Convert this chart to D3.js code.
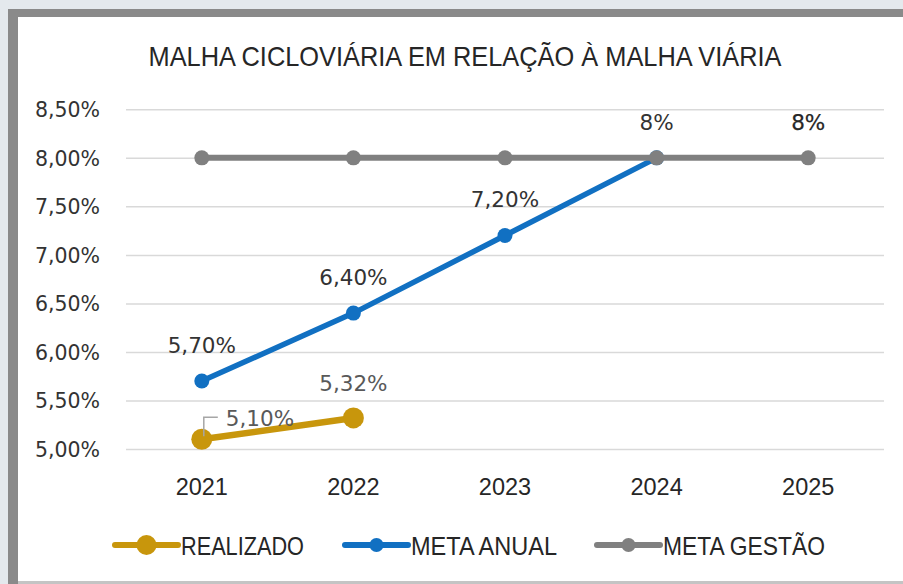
<!DOCTYPE html>
<html><head><meta charset="utf-8">
<script src="https://cdn.jsdelivr.net/npm/d3@7/dist/d3.min.js"></script>
<style>html,body{margin:0;padding:0;background:#e4e9ed;overflow:hidden}</style>
</head><body>
<svg id="c" width="903" height="584"></svg>
<script>
const title = "MALHA CICLOVIÁRIA EM RELAÇÃO À MALHA VIÁRIA";
const years = ["2021","2022","2023","2024","2025"];
const realizado = [5.10, 5.32, null, null, null];
const metaAnual = [5.70, 6.40, 7.20, 8.00, null];
const metaGestao = [8.00, 8.00, 8.00, 8.00, 8.00];
const realizadoLabels = ["5,10%", "5,32%", null, null, null];
const metaAnualLabels = ["5,70%", "6,40%", "7,20%", "8%", null];
const metaGestaoLabels = [null, null, null, null, "8%"];
const yTicks = [5.0, 5.5, 6.0, 6.5, 7.0, 7.5, 8.0, 8.5];
const seriesNames = ["REALIZADO", "META ANUAL", "META GESTÃO"];
const seriesColors = ["#c8960c", "#1170c2", "#808080"];

const svg = d3.select("#c");
// frame
svg.append("rect").attr("x",0).attr("y",0).attr("width",903).attr("height",584).attr("fill","#e4e9ed");
svg.append("rect").attr("x",8).attr("y",9).attr("width",1000).attr("height",1000).attr("fill","#8a8a8a");
svg.append("rect").attr("x",18).attr("y",17).attr("width",1000).attr("height",564).attr("fill","#ffffff");
svg.append("rect").attr("x",18).attr("y",581).attr("width",1000).attr("height",3).attr("fill","#c4c4c4");

const loc = d3.formatLocale({decimal:",", thousands:".", grouping:[3], currency:["",""]});
const fmt = loc.format(".2f");

const x = d3.scaleBand().domain(years).range([126, 884]).padding(0);
const y = d3.scaleLinear().domain([5, 8.5]).range([449, 109.3]);
const cx = d => x(d) + x.bandwidth()/2;

// title
svg.append("text").attr("x",465).attr("y",66).attr("text-anchor","middle")
  .attr("font-family","Liberation Sans, Arial, sans-serif").attr("font-size",28)
  .attr("fill","#262626").attr("textLength",633).attr("lengthAdjust","spacingAndGlyphs").text(title);

// y axis with gridlines
const ya = svg.append("g").attr("transform","translate(126,0)")
  .call(d3.axisLeft(y).tickValues(yTicks).tickSize(-(884-126)).tickPadding(26).tickFormat(d => fmt(d) + "%"));
ya.select(".domain").remove();
ya.selectAll(".tick line").attr("stroke","#d9d9d9").attr("stroke-width",1.5);
ya.selectAll(".tick text").attr("font-family","DejaVu Sans, sans-serif").attr("font-size",20.5)
  .attr("fill","#333333").attr("dy","0.36em");

// x axis
const xa = svg.append("g").attr("transform","translate(0,449)")
  .call(d3.axisBottom(x).tickSize(0).tickPadding(0));
xa.select(".domain").remove();
xa.selectAll(".tick text").attr("font-family","Liberation Sans, Arial, sans-serif").attr("font-size",23.5)
  .attr("fill","#262626").attr("y",46).attr("dy",0);

// series
function drawSeries(vals, color, lw, r) {
  const pts = years.map((yr,i) => ({yr, v: vals[i]})).filter(d => d.v != null);
  const line = d3.line().x(d => cx(d.yr)).y(d => y(d.v));
  svg.append("path").datum(pts).attr("d", line).attr("fill","none")
    .attr("stroke", color).attr("stroke-width", lw).attr("stroke-linecap","round");
  svg.append("g").selectAll("circle").data(pts).join("circle")
    .attr("cx", d => cx(d.yr)).attr("cy", d => y(d.v)).attr("r", r).attr("fill", color);
}
drawSeries(metaAnual, seriesColors[1], 5.5, 7.5);
drawSeries(metaGestao, seriesColors[2], 6, 7.5);
drawSeries(realizado, seriesColors[0], 6.5, 10.5);

// data labels
const lblFont = "DejaVu Sans, sans-serif";
years.forEach((yr,i) => {
  if (metaAnualLabels[i]) {
    svg.append("text").attr("x", cx(yr)).attr("y", y(metaAnual[i]) - 28).attr("text-anchor","middle")
      .attr("font-family", lblFont).attr("font-size",21.5).attr("fill","#333333").text(metaAnualLabels[i]);
  }
  if (metaGestaoLabels[i]) {
    svg.append("text").attr("x", cx(yr)).attr("y", y(metaGestao[i]) - 28).attr("text-anchor","middle")
      .attr("font-family", lblFont).attr("font-size",21.5).attr("fill","#262626")
      .attr("stroke","#262626").attr("stroke-width",0.25).text(metaGestaoLabels[i]);
  }
});
// realizado labels
{
  const i0 = 0, p0x = cx(years[0]), p0y = y(realizado[0]);
  svg.append("path").attr("d", `M${p0x+2},${p0y-3}V${p0y-22}H${p0x+16}`)
    .attr("fill","none").attr("stroke","#a6a6a6").attr("stroke-width",1.5);
  svg.append("text").attr("x", p0x + 24).attr("y", p0y - 13)
    .attr("font-family", lblFont).attr("font-size",21.5).attr("fill","#595959").text(realizadoLabels[i0]);
  const p1x = cx(years[1]), p1y = y(realizado[1]);
  svg.append("text").attr("x", p1x).attr("y", p1y - 27).attr("text-anchor","middle")
    .attr("font-family", lblFont).attr("font-size",21.5).attr("fill","#595959").text(realizadoLabels[1]);
}

// legend
const legX = [115, 345, 597];
const legW = [123, 146, 162];
const legR = [10, 7, 7];
seriesNames.forEach((n,i) => {
  const g = svg.append("g").attr("transform", `translate(${legX[i]},545)`);
  g.append("line").attr("x1",0).attr("x2",63).attr("y1",0).attr("y2",0)
    .attr("stroke", seriesColors[i]).attr("stroke-width",6).attr("stroke-linecap","round");
  g.append("circle").attr("cx",31.5).attr("cy",0).attr("r",legR[i]).attr("fill",seriesColors[i]);
  g.append("text").attr("x",66).attr("y",10).attr("font-family","Liberation Sans, Arial, sans-serif")
    .attr("font-size",25).attr("fill","#262626").attr("textLength",legW[i]).attr("lengthAdjust","spacingAndGlyphs").text(n);
});
</script>
</body></html>
